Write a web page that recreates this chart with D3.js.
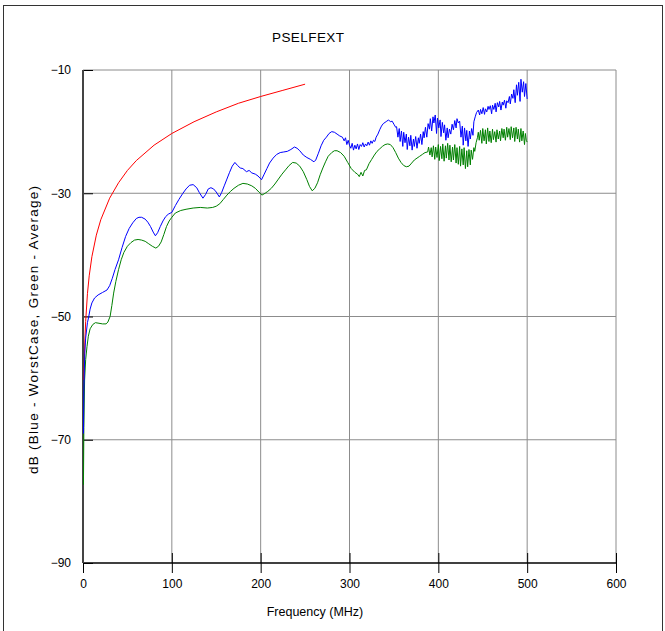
<!DOCTYPE html>
<html>
<head>
<meta charset="utf-8">
<script src="https://cdn.jsdelivr.net/npm/d3@7"></script>
<style>
  body { margin: 0; background: #fff; }
  text { font-family: "Liberation Sans", Arial, sans-serif; fill: #000; }
</style>
</head>
<body>
<div id="chart"></div>
<script>
// axis ticks
var xTicks = [0, 100, 200, 300, 400, 500, 600];
var yTicks = [-90, -70, -50, -30, -10];

// red: limit line [MHz, dB]
var limitLine = [
  [1, -60.3], [2, -54.3], [3, -50.8], [5, -46.3], [7, -43.4], [10, -40.3],
  [15, -36.8], [20, -34.3], [30, -30.8], [40, -28.3], [50, -26.3], [60, -24.7],
  [80, -22.2], [100, -20.3], [125, -18.4], [150, -16.8], [175, -15.4],
  [200, -14.3], [225, -13.3], [250, -12.3]
];

// blue: worst case
var worstCase = [
  [0.5, -69], [1, -62], [2, -56], [3, -53.5], [5, -51], [6.5, -50], [8, -48.8],
  [10, -47.8], [13, -47], [17, -46.5], [22, -46.1], [27, -45.7], [30, -45],
  [33, -43.8], [36, -42.4], [40, -40.8], [44, -38.8], [48, -37], [52, -35.7],
  [56, -34.8], [60, -34.1], [63, -33.9], [66, -33.9], [70, -34.2], [73, -34.7],
  [76, -35.4], [79, -36.3], [81.5, -36.9], [84, -36.4], [87, -35.4], [90, -34.5],
  [93, -33.8], [96, -33.4], [100, -33.1], [104, -32], [108, -31], [112, -30.1],
  [116, -29.3], [120, -28.7], [124, -28.6], [128, -29.1], [131, -29.9], [135, -30.8],
  [138, -30.2], [141, -29.3], [144, -29.1], [147, -29.3], [150, -29.8], [153.5, -30.6],
  [156, -29.9], [159, -28.8], [162, -27.7], [165, -26.6], [168, -25.6], [171, -25.0],
  [174, -25.5], [177, -25.9], [180, -26.0], [184, -26.5], [187, -26.3], [190, -26.7],
  [194, -26.9], [197, -27.2], [201, -27.8], [204, -26.9], [207, -26.0], [210, -25.1],
  [214, -24.3], [218, -23.7], [222, -23.4], [226, -23.3], [230, -23.2], [234, -22.9],
  [238, -22.5], [241, -22.7], [244, -23.1], [248, -23.8], [252, -24.2], [256, -24.5],
  [260, -24.9], [262, -24.6], [265, -23.5], [268, -22.3], [271, -21.4], [274, -20.9],
  [277, -20.3], [280, -20], [283, -20.1], [286, -20.4], [289, -20.7], [292, -20.9],
  [294, -21.5], [295.5, -21.0], [297, -22.1], [298.5, -21.4], [300, -22.2], [301.5, -22.7],
  [303, -21.9], [304.5, -23.0], [306, -22.2], [307.5, -22.8], [309, -22.0], [310.5, -22.9],
  [312, -22.1], [313.5, -22.4], [315, -21.8], [316.5, -22.5], [318, -22.0], [319.5, -22.3],
  [321, -21.7], [322.5, -22.2], [324, -21.5], [325.5, -21.9], [327, -21.4], [328.5, -21.6],
  [330, -20.9], [332, -20.4], [334, -19.7], [336, -19.1], [338, -18.7], [340, -18.5],
  [342, -18.3], [344, -18.1], [346, -18.4], [348, -18.3], [350, -18.8], [352, -19.3],
  [353, -19.2], [354.5, -20.9], [356, -19.5], [357, -21.6], [358.5, -19.9], [360, -22.4],
  [361, -20.1], [362.5, -21.8], [364, -20.4], [365, -22.9], [366.5, -20.9], [368, -22.3],
  [369, -20.6], [370.5, -23.0], [372, -21.2], [373, -22.4], [374.5, -20.8], [376, -22.7],
  [377.5, -21.0], [378.5, -21.9], [380, -20.4], [381.5, -22.1], [383, -20.0], [384, -21.0],
  [385.5, -19.3], [387, -20.9], [388.5, -18.7], [390, -19.6], [391, -17.9], [392.5, -19.9],
  [394, -17.6], [395, -18.6], [396.5, -17.3], [398, -20.3], [399, -17.8], [400.5, -19.4],
  [402, -18.1], [403, -20.8], [404.5, -18.5], [406, -20.2], [407, -18.9], [408.5, -21.4],
  [410, -19.4], [411, -21.0], [412.5, -19.6], [414, -20.4], [415.5, -18.8], [417, -19.7],
  [418.5, -18.2], [420, -19.4], [421, -17.9], [422.5, -18.6], [424, -18.3], [425.5, -20.9],
  [427, -19.1], [428, -22.2], [429.5, -19.4], [431, -21.5], [432, -19.8], [433.5, -22.4],
  [435, -19.9], [436, -21.2], [437.5, -19.5], [439, -20.6], [440, -18.4], [441.5, -17.6],
  [443, -16.9], [445, -16.5], [446.5, -17.3], [447.5, -16.4], [449, -17.1], [450.5, -16.1],
  [452, -17.2], [453, -16.3], [454.5, -16.8], [456, -15.9], [457, -16.4], [458.5, -15.8],
  [460, -17.1], [461, -15.7], [462.5, -16.4], [464, -15.4], [465, -16.8], [466.5, -15.3],
  [468, -16.0], [469, -15.1], [470.5, -16.5], [472, -15.2], [473, -15.7], [474.5, -14.9],
  [476, -16.2], [477, -15.0], [478.5, -15.3], [480, -14.3], [481, -15.5], [482.5, -13.9],
  [484, -14.6], [485, -13.2], [486.5, -15.3], [488, -12.4], [489, -14.1], [490.5, -12.0],
  [492, -15.1], [493, -11.5], [494.5, -13.6], [496, -11.9], [497, -14.3], [498.5, -12.2],
  [500, -14.7]
];

// green: average
var average = [
  [0.5, -77.3], [1, -68], [1.8, -60.3], [3, -57], [4.5, -54.9], [6, -53.2], [8, -52],
  [11, -51.3], [14, -51], [18, -51.1], [22, -51.2], [26, -51.2], [28, -50.9], [30.5, -50],
  [32.5, -48.2], [34.5, -46.2], [37, -44.3], [40, -42.4], [43, -40.8], [46, -39.6],
  [50, -38.6], [54, -38], [58, -37.6], [62, -37.5], [66, -37.6], [70, -37.8], [74, -38.2],
  [78, -38.6], [82, -38.9], [85, -38.6], [88, -37.9], [91, -36.7], [94, -35.4], [97, -34.5],
  [100, -33.9], [104, -33.2], [110, -32.8], [116, -32.6], [124, -32.4], [132, -32.3],
  [140, -32.4], [146, -32.3], [150, -32.1], [154, -31.7], [158, -31.0], [162, -30.3],
  [166, -29.7], [170, -29.2], [175, -28.7], [180, -28.4], [185, -28.5], [190, -28.8],
  [194, -29.2], [198, -29.8], [201.5, -30.3], [205, -30.0], [208, -29.7], [212, -29.2],
  [216, -28.5], [220, -27.7], [224, -26.9], [228, -26.2], [232, -25.5], [236, -25.0],
  [240, -25.1], [244, -25.6], [248, -26.5], [252, -27.8], [255, -28.9], [258, -29.6],
  [261, -29.2], [264, -28.3], [267, -27.0], [270, -25.9], [273, -24.9], [276, -24.0],
  [280, -23.4], [283, -23.1], [286, -23.1], [290, -23.4], [294, -24.0], [298, -25.0],
  [302, -26.0], [306, -26.6], [309, -26.9], [311, -27.3], [313, -26.6], [315, -27.2],
  [317, -26.3], [319, -26.2], [322, -25.2], [325, -24.5], [328, -23.8], [331, -23.2],
  [334, -22.8], [337, -22.4], [340, -22.1], [343, -22.0], [346, -22.1], [349, -22.6],
  [352, -23.4], [355, -24.3], [358, -25.0], [361, -25.5], [364, -25.7], [367, -25.6],
  [370, -25.1], [373, -24.6], [376, -24.3], [379, -24.0], [382, -23.7], [385, -23.4],
  [388, -23.3], [389, -22.5], [390.5, -23.8], [392, -22.6], [393, -24.1], [394.5, -22.3],
  [396, -24.5], [397, -22.5], [398.5, -24.2], [400, -22.1], [401, -24.7], [402.5, -22.4],
  [404, -24.4], [405, -22.0], [406.5, -24.8], [408, -22.3], [409, -24.3], [410.5, -21.9],
  [412, -24.6], [413, -22.2], [414.5, -24.9], [416, -22.5], [417, -24.6], [418.5, -22.1],
  [420, -25.1], [421, -22.6], [422.5, -25.3], [424, -22.4], [425, -25.6], [426.5, -22.8],
  [428, -25.4], [429, -22.6], [430.5, -26.0], [432, -23.1], [433, -25.7], [434.5, -22.9],
  [436, -25.4], [437, -23.0], [438.5, -24.5], [440, -22.6], [441, -23.2], [442.5, -21.8],
  [444, -21.0], [445, -20.1], [446, -21.4], [447.5, -19.8], [449, -21.9], [450, -19.5],
  [451.5, -21.5], [453, -19.7], [454, -22.0], [455.5, -19.4], [457, -21.6], [458, -19.9],
  [459.5, -21.8], [461, -19.6], [462, -21.3], [463.5, -20.0], [465, -21.7], [466, -19.7],
  [467.5, -21.2], [469, -19.9], [470, -21.5], [471.5, -19.5], [473, -21.0], [474, -19.6],
  [475.5, -21.4], [477, -19.3], [478, -20.9], [479.5, -19.5], [481, -21.3], [482, -19.2],
  [483.5, -21.0], [485, -19.4], [486, -21.6], [487.5, -19.3], [489, -21.2], [490, -19.6],
  [491.5, -21.7], [493, -19.5], [494, -21.5], [495.5, -19.9], [497, -22.1], [498, -20.3],
  [499, -21.4], [500, -21.7]
];

var width = 665, height = 631;
var margin = { top: 70, right: 49, bottom: 68, left: 83 };

var svg = d3.select("#chart").append("svg")
  .attr("width", width)
  .attr("height", height);

// outer frame
svg.append("rect")
  .attr("x", 3.5).attr("y", 5.5)
  .attr("width", 659).attr("height", 640)
  .attr("fill", "none").attr("stroke", "#333").attr("stroke-width", 1);

var x = d3.scaleLinear().domain([0, 600]).range([margin.left, width - margin.right]);
var y = d3.scaleLinear().domain([-90, -10]).range([height - margin.bottom, margin.top]);

// grid
svg.append("g").selectAll("line")
  .data(xTicks.slice(1))
  .join("line")
  .attr("x1", d => x(d)).attr("x2", d => x(d))
  .attr("y1", y(-10)).attr("y2", y(-90))
  .attr("stroke", "#8c8c8c").attr("stroke-width", 1);

svg.append("g").selectAll("line")
  .data(yTicks.slice(1))
  .join("line")
  .attr("x1", x(0)).attr("x2", x(600))
  .attr("y1", d => y(d)).attr("y2", d => y(d))
  .attr("stroke", "#8c8c8c").attr("stroke-width", 1);

// axes
var xAxis = d3.axisBottom(x).tickValues(xTicks).tickSize(10).tickPadding(6);
var gx = svg.append("g")
  .attr("transform", `translate(0,${y(-90)})`)
  .call(xAxis);
gx.select(".domain").remove();
gx.selectAll(".tick line").attr("y1", -10).attr("stroke", "#000");
gx.selectAll("text").style("font-size", "12px").attr("fill", "#000");
svg.append("line")
  .attr("x1", x(0)).attr("x2", x(600))
  .attr("y1", y(-90)).attr("y2", y(-90))
  .attr("stroke", "#000").attr("stroke-width", 1.5);

var yAxis = d3.axisLeft(y).tickValues(yTicks).tickSize(11).tickPadding(1);
var gy = svg.append("g")
  .attr("transform", `translate(${x(0)},0)`)
  .call(yAxis);
gy.select(".domain").remove();
gy.selectAll(".tick line").attr("x2", 10).attr("stroke", "#000");
gy.selectAll("text").style("font-size", "12px").attr("fill", "#000");
svg.append("line")
  .attr("x1", x(0)).attr("x2", x(0))
  .attr("y1", y(-10)).attr("y2", y(-90))
  .attr("stroke", "#444").attr("stroke-width", 2);

// curves
var line = d3.line()
  .x(d => x(d[0]))
  .y(d => y(d[1]));

var series = [
  { data: limitLine, color: "#ff0000" },
  { data: average, color: "#008000" },
  { data: worstCase, color: "#0000ff" }
];

svg.append("g").selectAll("path")
  .data(series)
  .join("path")
  .attr("d", d => line(d.data))
  .attr("fill", "none")
  .attr("stroke", d => d.color)
  .attr("stroke-width", 1);

// titles
svg.append("text")
  .attr("x", 308).attr("y", 42)
  .attr("text-anchor", "middle")
  .attr("textLength", 72)
  .style("font-size", "13.5px")
  .text("PSELFEXT");

svg.append("text")
  .attr("x", 315).attr("y", 616)
  .attr("text-anchor", "middle")
  .style("font-size", "12.5px")
  .text("Frequency (MHz)");

svg.append("text")
  .attr("transform", "translate(38,330) rotate(-90)")
  .attr("text-anchor", "middle")
  .attr("textLength", 288)
  .style("font-size", "13.5px")
  .text("dB (Blue - WorstCase, Green - Average)");
</script>
</body>
</html>
